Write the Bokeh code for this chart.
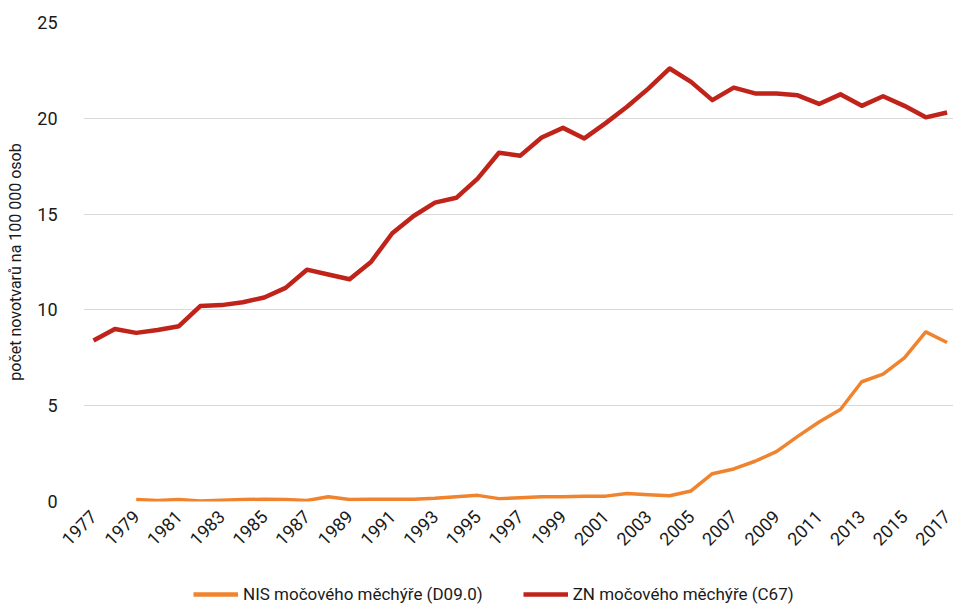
import math
from bokeh.plotting import figure
from bokeh.layouts import column
from bokeh.models import Range1d, FixedTicker, Legend, LegendItem
from bokeh.embed import file_html
from bokeh.resources import INLINE

years_zn = list(range(1977, 2018))
zn = [8.4, 9.0, 8.8, 8.95, 9.15, 10.2, 10.25, 10.4, 10.65, 11.15,
      12.1, 11.85, 11.6, 12.5, 14.0, 14.9, 15.6, 15.85, 16.85, 18.2,
      18.05, 19.0, 19.5, 18.95, 19.75, 20.6, 21.55, 22.6, 21.9, 20.95,
      21.6, 21.3, 21.3, 21.2, 20.75, 21.25, 20.65, 21.15, 20.65, 20.05,
      20.3]

years_nis = list(range(1979, 2018))
nis = [0.1, 0.05, 0.1, 0.03, 0.07, 0.1, 0.12, 0.1, 0.05, 0.25,
       0.1, 0.12, 0.12, 0.12, 0.17, 0.25, 0.32, 0.15, 0.2, 0.25,
       0.25, 0.28, 0.28, 0.42, 0.35, 0.3, 0.55, 1.45, 1.7, 2.1,
       2.6, 3.4, 4.15, 4.8, 6.25, 6.65, 7.5, 8.85, 8.3]

tick_years = list(range(1977, 2018, 2))
y_ticks = [0, 5, 10, 15, 20, 25]

label_nis = "NIS močového měchýře (D09.0)"
label_zn = "ZN močového měchýře (C67)"
y_title = "počet novotvarů na 100 000 osob"

FONT = "Roboto"
RED = "#c0231a"
ORANGE = "#f0832e"
TXT = "#1a1a1a"

p = figure(width=953, height=560, output_backend="svg", toolbar_location=None,
           x_range=Range1d(1976.53, 2017.3), y_range=Range1d(0, 25),
           min_border_left=83, min_border_right=0, min_border_top=22,
           min_border_bottom=59)
p.outline_line_color = None
p.background_fill_color = "white"
p.border_fill_color = "white"

p.line(years_nis, nis, line_color=ORANGE, line_width=3.5, line_join="round")
p.line(years_zn, zn, line_color=RED, line_width=4.5, line_join="round")

p.xgrid.grid_line_color = None
p.ygrid.grid_line_color = "#d9d9d9"
p.ygrid.grid_line_width = 1.2

p.xaxis.ticker = FixedTicker(ticks=tick_years)
p.yaxis.ticker = FixedTicker(ticks=y_ticks)
for ax in (p.xaxis[0], p.yaxis[0]):
    ax.axis_line_color = None
    ax.major_tick_line_color = None
    ax.minor_tick_line_color = None
    ax.major_label_text_font = FONT
    ax.major_label_text_font_size = "18px"
    ax.major_label_text_color = TXT

p.xaxis.major_label_orientation = math.pi / 4
p.xaxis.major_label_standoff = 6

p.yaxis.major_label_standoff = 20
p.yaxis.axis_label = y_title
p.yaxis.axis_label_text_font = FONT
p.yaxis.axis_label_text_font_size = "16px"
p.yaxis.axis_label_text_font_style = "normal"
p.yaxis.axis_label_text_color = TXT
p.yaxis.axis_label_standoff = 9

# legend strip below the chart (its series lie outside its 0..1 ranges, so only
# the legend itself is visible)
pl = figure(width=953, height=44, output_backend="svg", toolbar_location=None,
            x_range=Range1d(0, 1), y_range=Range1d(0, 1),
            min_border_left=0, min_border_right=0, min_border_top=0,
            min_border_bottom=0)
pl.axis.visible = False
pl.grid.visible = False
pl.outline_line_color = None
pl.border_fill_color = "white"
l_nis = pl.line(years_nis, nis, line_color=ORANGE, line_width=4.5)
l_zn = pl.line(years_zn, zn, line_color=RED, line_width=4.5)

legend = Legend(items=[LegendItem(label=label_nis, renderers=[l_nis]),
                       LegendItem(label=label_zn, renderers=[l_zn])],
                orientation="horizontal", location=(110, 0))
legend.label_text_font = FONT
legend.label_text_font_size = "17px"
legend.label_text_color = TXT
legend.glyph_width = 45
legend.glyph_height = 14
legend.label_height = 14
legend.label_standoff = 5
legend.spacing = 40
legend.padding = 0
legend.margin = 0
legend.border_line_color = None
legend.background_fill_alpha = 0
pl.add_layout(legend, "center")

layout = column(p, pl, spacing=0)
open("out.html", "w").write(file_html(layout, INLINE))
